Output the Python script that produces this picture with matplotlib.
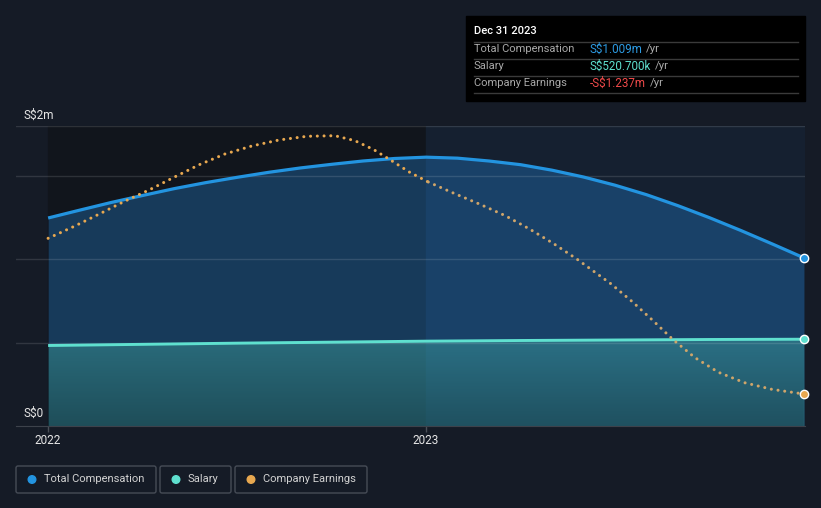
import numpy as np
import matplotlib
matplotlib.use('Agg')
import matplotlib.pyplot as plt
from matplotlib.patches import Rectangle, FancyBboxPatch, Circle

plt.rcParams['font.family'] = ['Roboto', 'DejaVu Sans']

# Total compensation, monthly (S$m)
comp_t = [2022 + k / 12 for k in range(25)]
comp = [1.248, 1.295, 1.341, 1.383, 1.424, 1.460, 1.492, 1.522, 1.548, 1.570,
        1.590, 1.605, 1.613, 1.607, 1.590, 1.568, 1.535, 1.494, 1.445, 1.388,
        1.322, 1.250, 1.173, 1.092, 1.009]

# Salary, quarterly (S$m)
salary_t = [2022 + k / 4 for k in range(9)]
salary = [0.483, 0.490, 0.497, 0.503, 0.509, 0.513, 0.516, 0.519, 0.5207]

# Company earnings (S$m, own scale)
earn_t = [2022.000, 2022.067, 2022.134, 2022.200, 2022.267, 2022.333, 2022.400,
          2022.468, 2022.539, 2022.611, 2022.685, 2022.759, 2022.812, 2022.862,
          2022.909, 2022.957, 2023.006, 2023.074, 2023.143, 2023.210, 2023.274,
          2023.338, 2023.399, 2023.489, 2023.546, 2023.601, 2023.654, 2023.712,
          2023.774, 2023.843, 2023.915, 2024.000]
earnings = [0.320, 0.436, 0.560, 0.686, 0.803, 0.930, 1.056,
            1.163, 1.243, 1.303, 1.340, 1.346, 1.296, 1.206,
            1.096, 0.980, 0.883, 0.770, 0.660, 0.546, 0.413,
            0.266, 0.113, -0.134, -0.314, -0.504, -0.694, -0.874,
            -1.020, -1.124, -1.190, -1.237]

BG = '#151b26'
BLUE = '#2394e0'
TEAL = '#5fe0cf'
ORANGE = '#e8a850'

W, H = 821, 508
fig = plt.figure(figsize=(W / 100, H / 100), dpi=100, facecolor=BG)

ax = fig.add_axes([16 / W, 1 - 426 / H, (805 - 16) / W, 300 / H])
ax.set_facecolor(BG)
ax.set_xlim(2021.915, 2024.003)
ax.set_ylim(0, 1.8)

# past / current shading
ax.axvspan(2022, 2023, color='#11151c', zorder=0)
ax.axvspan(2023, 2024.003, color='#152030', zorder=0)

# fills
ax.fill_between(comp_t, comp, 0, color='#2590eb', alpha=0.3, lw=0, zorder=1)
sal_fill = ax.fill_between(salary_t, salary, 0, color='#4cc6ba', alpha=0.36, lw=0, zorder=2)
grad = np.zeros((100, 2, 4))
grad[..., 3] = np.linspace(0.0, 0.28, 100)[:, None]
img = ax.imshow(grad, extent=[2022, 2024, 0, 0.53], aspect='auto', zorder=2.5,
                interpolation='bilinear')
img.set_clip_path(sal_fill.get_paths()[0], transform=ax.transData)

for g in [0.5, 1.0, 1.5, 1.8]:
    ax.axhline(g, color='white', alpha=0.12, lw=1, zorder=3)

ax.plot(comp_t, comp, color=BLUE, lw=2.3, zorder=5, solid_capstyle='butt')
ax.plot(salary_t, salary, color=TEAL, lw=2.1, zorder=5, solid_capstyle='butt')
ax.plot(comp_t[-1], comp[-1], 'o', ms=6, mfc=BLUE, mec='white', mew=1, zorder=7, clip_on=False)
ax.plot(salary_t[-1], salary[-1], 'o', ms=6, mfc=TEAL, mec='white', mew=1, zorder=7, clip_on=False)

ax2 = ax.twinx()
ax2.set_ylim(-1.557, 1.443)
split = 16
ax2.plot(earn_t[:split + 1], earnings[:split + 1], color=ORANGE, lw=2.2,
         ls=(0, (0.01, 2.2)), dash_capstyle='round', zorder=6)
ax2.plot(earn_t[split:], earnings[split:], color='#cfa56a', lw=2.2,
         ls=(0, (0.01, 2.2)), dash_capstyle='round', zorder=6)
ax2.plot(earn_t[-1], earnings[-1], 'o', ms=6, mfc=ORANGE, mec='white', mew=1, zorder=7, clip_on=False)
ax2.axis('off')

for s in ['top', 'left', 'right']:
    ax.spines[s].set_visible(False)
ax.spines['bottom'].set_color('#3d424b')
ax.set_yticks([])
ax.set_xticks([2022, 2023])
ax.set_xticklabels(['2022', '2023'])
ax.tick_params(axis='x', colors='#4a4f58', length=4, width=1, pad=1.5,
               labelcolor='#e6e6e6', labelsize=8.5)

# overlay in pixel coordinates
ov = fig.add_axes([0, 0, 1, 1])
ov.set_xlim(0, W)
ov.set_ylim(H, 0)
ov.axis('off')

ov.text(24, 115, 'S$2m', color='#e6e6e6', fontsize=8.5, va='center', ha='left')
ov.text(24, 413, 'S$0', color='#e6e6e6', fontsize=8.5, va='center', ha='left')

# tooltip
ov.add_patch(Rectangle((466, 16), 339, 85, color='black', zorder=1))
ov.text(474, 31, 'Dec 31 2023', color='white', fontsize=8, fontweight='medium',
        va='center', zorder=2)
for yy in [41.5, 58.5, 76, 93]:
    ov.plot([474, 798], [yy, yy], color='#3a3a3a', lw=1, zorder=2)
rows = [('Total Compensation', 'S$1.009m', '#2d9be3'),
        ('Salary', 'S$520.700k', '#5fe0cf'),
        ('Company Earnings', '-S$1.237m', '#f04a4a')]
for i, (lab, val, col) in enumerate(rows):
    yy = 49.3 + i * 17
    ov.text(474, yy, lab, color='#a9a9a9', fontsize=8, va='center', zorder=2)
    vt = ov.text(590, yy, val, color=col, fontsize=8.4, va='center', zorder=2)
    ov.annotate('/yr', xy=(1, 0.5), xycoords=vt, xytext=(2.5, 0),
                textcoords='offset points', color='#a9a9a9', fontsize=8.2,
                va='center', ha='left', zorder=2)

# legend
legend = [('Total Compensation', BLUE, 16, 140), ('Salary', TEAL, 160, 71),
          ('Company Earnings', ORANGE, 235, 132)]
for lab, col, x0, w in legend:
    ov.add_patch(FancyBboxPatch((x0, 466), w, 27, boxstyle='round,pad=0,rounding_size=2',
                                fc='none', ec='#464c56', lw=1))
    ov.add_patch(Circle((x0 + 16, 479.5), 3.8, color=col))
    ov.text(x0 + 28, 479.5, lab, color='#d2d2d2', fontsize=8, va='center')

fig.savefig('out.png', dpi=100, facecolor=BG)
